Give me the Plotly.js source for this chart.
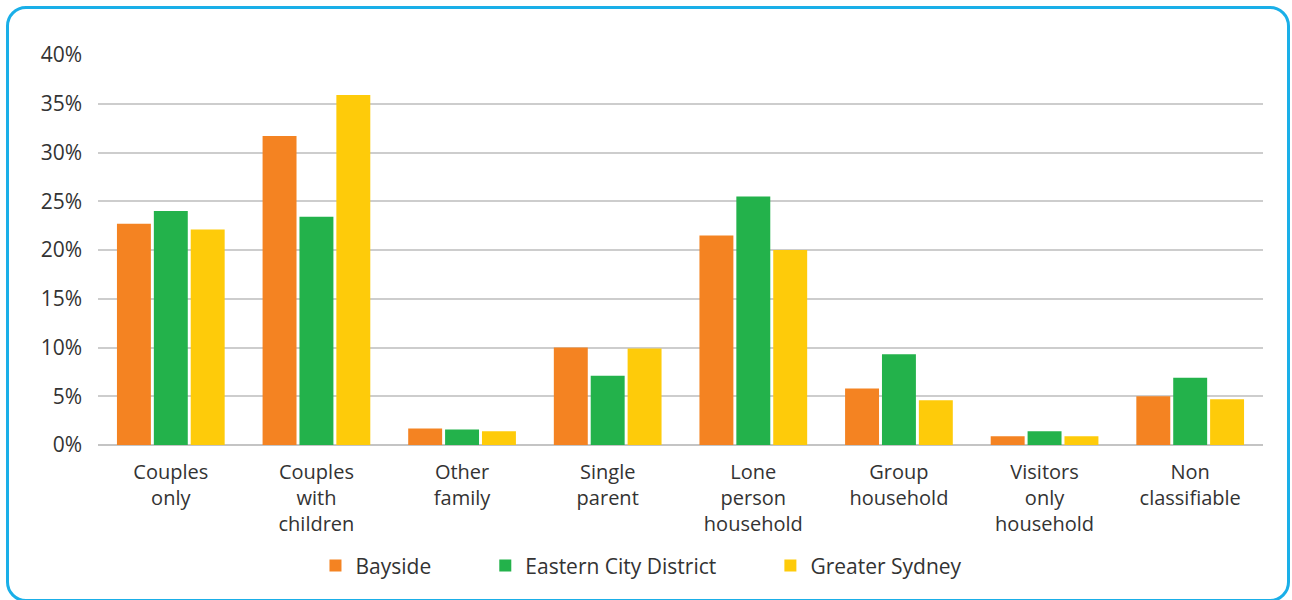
<!DOCTYPE html>
<html>
<head>
<meta charset="utf-8">
<script src="https://cdn.plot.ly/plotly-3.0.1.min.js"></script>
<style>
  html, body { margin: 0; padding: 0; width: 1292px; height: 600px; overflow: hidden; background: #fff; }
  #frame {
    position: absolute; left: 6px; top: 6px; width: 1278px; height: 590px;
    border: 3px solid #1AAFE8; border-radius: 20px; box-sizing: content-box;
  }
  #chart { position: absolute; left: 0; top: 0; width: 1292px; height: 600px; }
</style>
</head>
<body>
<div id="frame"></div>
<div id="chart"></div>
<script>
// Household composition, share of households (%)
const categories = [
  'Couples<br>only',
  'Couples<br>with<br>children',
  'Other<br>family',
  'Single<br>parent',
  'Lone<br>person<br>household',
  'Group<br>household',
  'Visitors<br>only<br>household',
  'Non<br>classifiable'
];
const bayside = [22.7, 31.7, 1.7, 10.0, 21.5, 5.8, 0.9, 5.0];
const easternCity = [24.0, 23.4, 1.6, 7.1, 25.5, 9.3, 1.4, 6.9];
const greaterSydney = [22.1, 35.9, 1.4, 9.9, 20.0, 4.6, 0.9, 4.7];
const yTicks = [0, 5, 10, 15, 20, 25, 30, 35, 40];

const seriesNames = ['Bayside', 'Eastern City District', 'Greater Sydney'];
const seriesColors = ['#F48322', '#23B24B', '#FECB0A'];
const seriesValues = [bayside, easternCity, greaterSydney];

const FONT = '"Open Sans", sans-serif';
const NBSP = '\u00A0';
// extra room after each legend label so the entries spread out
const legendPad = [9, 9, 0];

const traces = seriesValues.map((vals, i) => ({
  type: 'bar',
  x: categories,
  y: vals,
  name: seriesNames[i] + NBSP.repeat(legendPad[i]),
  marker: { color: seriesColors[i], line: { width: 0 } },
  hoverinfo: 'y'
}));

const layout = {
  width: 1292,
  height: 600,
  margin: { l: 98, r: 29, t: 55, b: 155 },
  paper_bgcolor: 'rgba(0,0,0,0)',
  plot_bgcolor: 'rgba(0,0,0,0)',
  barmode: 'group',
  bargap: 0.24,
  bargroupgap: 0.08,
  font: { family: FONT, size: 20, color: '#333333' },
  xaxis: {
    showgrid: false,
    showline: false,
    zeroline: false,
    ticks: '',
    tickfont: { family: FONT, size: 20, color: '#333333' },
    ticklabelstandoff: 13
  },
  yaxis: {
    range: [0, 40],
    tickvals: yTicks,
    ticktext: yTicks.map(v => v + '%'),
    showgrid: true,
    gridcolor: '#CDCDCD',
    gridwidth: 2,
    zeroline: true,
    zerolinecolor: '#C4C4C4',
    zerolinewidth: 2,
    showline: false,
    ticks: '',
    tickfont: { family: FONT, size: 21, color: '#333333' },
    ticklabelstandoff: 15,
    fixedrange: true
  },
  showlegend: true,
  legend: {
    orientation: 'h',
    xref: 'container',
    yref: 'container',
    x: 0.4965,
    xanchor: 'center',
    y: 0.057,
    yanchor: 'middle',
    font: { family: FONT, size: 21, color: '#333333' },
    itemclick: false,
    itemdoubleclick: false
  }
};

Plotly.newPlot('chart', traces, layout, { displayModeBar: false, staticPlot: true });
</script>
</body>
</html>
